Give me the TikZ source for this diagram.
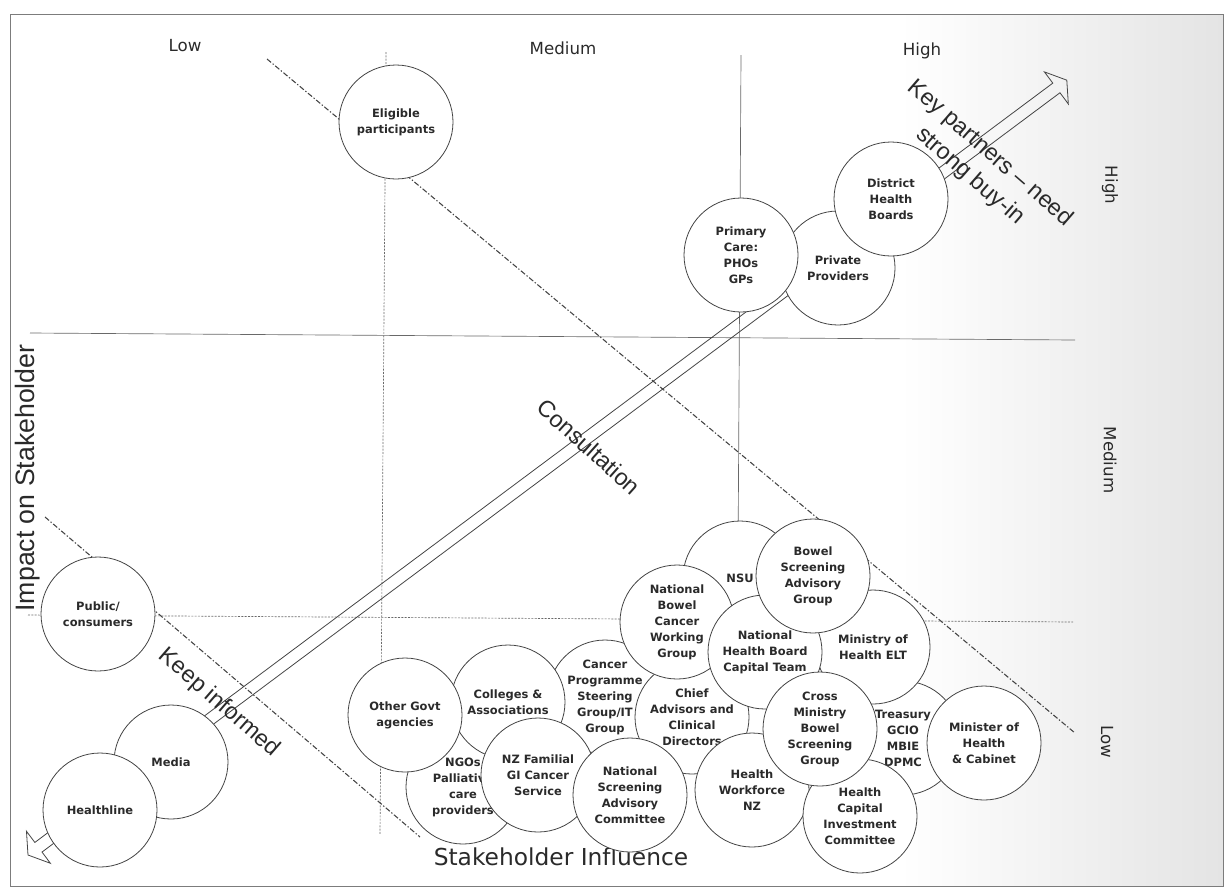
\documentclass[tikz,border=0pt]{standalone}
\usepackage{fontspec}
\setsansfont{DejaVu Sans}
\newfontfamily\arialfont{Liberation Sans}
\usetikzlibrary{positioning, calc}
\definecolor{inkline}{HTML}{444444}
\definecolor{inktext}{HTML}{2A2A2A}
\definecolor{scangrey}{HTML}{E4E4E4}

\begin{document}
\begin{tikzpicture}[
    x=0.75pt, y=-0.75pt,
    font=\sffamily,
    every node/.style={inner sep=0pt, text=inktext},
    party/.style={
        circle, draw=inkline, line width=0.6pt, fill=white,
        minimum size=85.5pt, align=center,
        font=\sffamily\bfseries\fontsize{8.6}{12}\selectfont
    },
    levellabel/.style={font=\sffamily\fontsize{12.5}{15}\selectfont},
    axislabel/.style={font=\arialfont\fontsize{20}{24}\selectfont},
    influencelabel/.style={font=\sffamily\fontsize{17.5}{21}\selectfont},
    zonelabel/.style={font=\arialfont\fontsize{17.5}{23}\selectfont, align=center},
    gridsolid/.style={draw=inkline!80, line width=0.5pt},
    griddotted/.style={draw=inkline!80, line width=0.5pt, dash pattern=on 1.5pt off 1pt},
    divider/.style={draw=inkline, line width=0.8pt, dash pattern=on 4pt off 1.5pt on 1pt off 1.5pt},
    arrowoutline/.style={draw=inkline, line width=0.6pt},
]
\useasboundingbox (0,0) rectangle (1226,889);

% === Scanned page tone and frame ===
\shade[left color=white, right color=scangrey] (900,14) rectangle (1223,886);
\draw[draw=inkline!70, line width=0.6pt] (10,14) rectangle (1223,886);

% === Grid ===
\draw[griddotted] (386,52) -- (380,835);
\draw[gridsolid] (741,55) -- (738,560);
\draw[gridsolid] (30,333) -- (1075,340);
\draw[griddotted] (28,615) -- (1073,622);

% === Zone dividers ===
\draw[divider] (267,59) -- (1075,733);
\draw[divider] (45,517) -- (420,837);

% === Double arrow (behind circles) ===
\coordinate (lowend) at (28,855);
\coordinate (highend) at (1067,80);
\begin{scope}[shift={(lowend)}, rotate=36.72]
\draw[arrowoutline] (0,0) -- (13,-20) -- (13,-6) -- (1283,-6) -- (1283,-20)
    -- (1296,0) -- (1283,20) -- (1283,6) -- (13,6) -- (13,20) -- cycle;
\end{scope}

% === Level labels ===
\node[levellabel] (collow) at (185,46) {Low};
\node[levellabel] (colmed) at (563,48) {Medium};
\node[levellabel] (colhigh) at (922,51) {High};
\node[levellabel, rotate=-90] (rowhigh) at (1110,185) {High};
\node[levellabel, rotate=-90] (rowmed) at (1110,460) {Medium};
\node[levellabel, rotate=-90] (rowlow) at (1107,742) {Low};

% === Axis titles ===
\node[axislabel, rotate=90] (impact) at (28,478) {Impact on Stakeholder};
\node[influencelabel] (influence) at (561,857) {Stakeholder Influence};

% === Top group ===
\node[party] (elig) at (396,122) {Eligible\\participants};
\node[party] (private) at (838,268) {Private\\Providers};
\node[party] (primary) at (741,255) {Primary\\Care:\\PHOs\\GPs};
\node[party] (dhb) at (891,199) {District\\Health\\Boards};

% === Left group ===
\node[party] (public) at (98,614) {Public/\\consumers};
\node[party] (media) at (171,762) {Media};
\node[party] (healthline) at (100,810) {Healthline};

% === Bottom cluster ===
\node[party] (treasury) at (903,738) {Treasury\\GCIO\\MBIE\\DPMC};
\node[party] (nsu) at (740,578) {NSU};
\node[party] (elt) at (873,647) {Ministry of\\Health ELT};
\node[party] (cancerprog) at (605,697) {Cancer\\Programme\\Steering\\Group/IT\\Group};
\node[party] (chief) at (692,717) {Chief\\Advisors and\\Clinical\\Directors};
\node[party] (nbcwg) at (677,622) {National\\Bowel\\Cancer\\Working\\Group};
\node[party] (nhbct) at (765,652) {National\\Health Board\\Capital Team};
\node[party] (bsag) at (813,576) {Bowel\\Screening\\Advisory\\Group};
\node[party] (hwnz) at (752,790) {Health\\Workforce\\NZ};
\node[party] (hcic) at (860,816) {Health\\Capital\\Investment\\Committee};
\node[party] (cross) at (820,729) {Cross\\Ministry\\Bowel\\Screening\\Group};
\node[party] (minister) at (984,743) {Minister of\\Health\\\& Cabinet};
\node[party] (ngos) at (463,787) {NGOs\\Palliative\\care\\providers};
\node[party] (colleges) at (508,702) {Colleges \&\\Associations};
\node[party] (othergovt) at (405,715) {Other Govt\\agencies};
\node[party] (nzf) at (538,775) {NZ Familial\\GI Cancer\\Service};
\node[party] (nsac) at (630,795) {National\\Screening\\Advisory\\Committee};

% === Zone labels ===
\node[zonelabel, rotate=-41] (keypartners) at (980,165) {Key partners – need\\strong buy-in};
\node[zonelabel, rotate=-42] (consult) at (589,447) {Consultation};
\node[zonelabel, rotate=-41] (keepinf) at (219,703) {Keep informed};

\end{tikzpicture}
\end{document}
